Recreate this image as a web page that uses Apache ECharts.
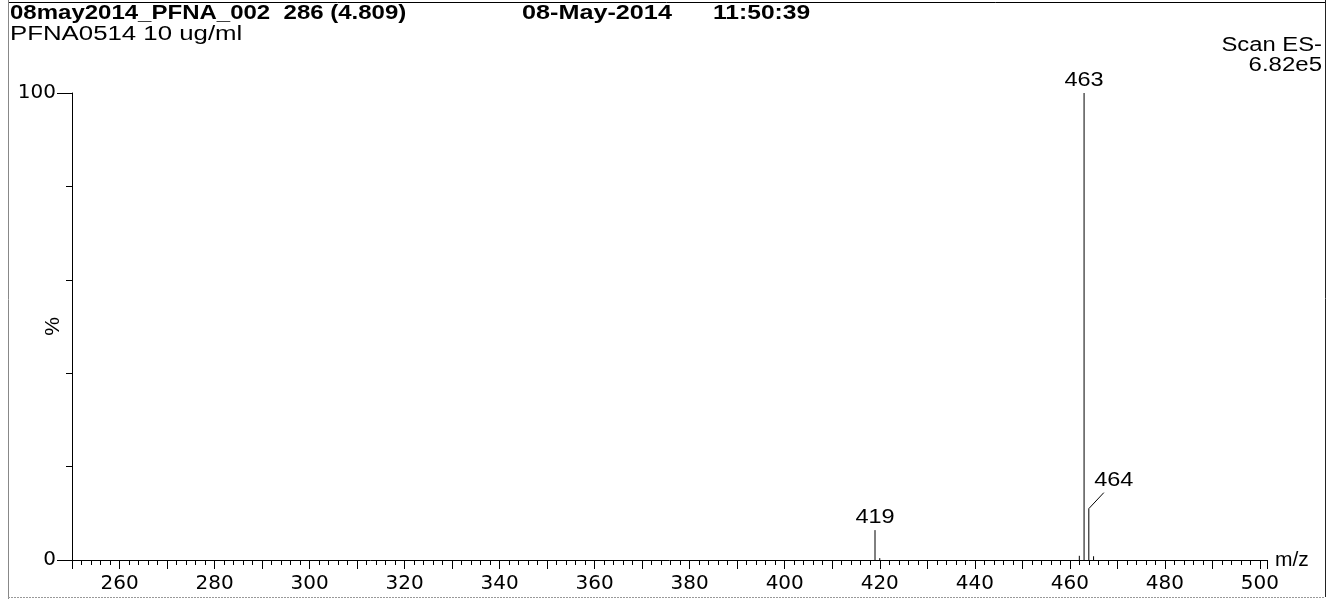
<!DOCTYPE html>
<html><head><meta charset="utf-8">
<script src="https://cdn.jsdelivr.net/npm/echarts@6/dist/echarts.min.js"></script>
<style>html,body{margin:0;padding:0;background:#fff}#c{width:1333px;height:599px}</style>
</head><body><div id="c"></div>
<script>
// m/z values and relative intensities (%) of the sticks
const peakMz  = [419, 420, 462, 463, 464, 465];
const peakInt = [6.4, 0.4, 0.9, 100, 11.0, 0.8];
// peaks that carry a label
const labelMz = [419, 463, 464];
// axis settings
const xMin = 250, xMax = 501.5, xStep = 10, xLabelStep = 20;
const yTicks = [0, 20, 40, 60, 80, 100];

const FONT = '"Liberation Sans", Arial, sans-serif';
const AXFONT = '"DejaVu Sans", sans-serif';
const chart = echarts.init(document.getElementById('c'));

const stickData = peakMz.map((m, i) => [m, peakInt[i]]);
const labelData = labelMz.map(m => [m, peakInt[peakMz.indexOf(m)]]);
const leader = {464: true};

function txt(text, x, y, font, sx, align) {
  return {type: 'text', x: x, y: y, scaleX: sx,
    style: {text: text, font: font, fill: '#000', align: align || 'left', verticalAlign: 'middle'}};
}

chart.setOption({
  animation: false,
  grid: {left: 72, right: 66, top: 93, bottom: 39},
  xAxis: {
    type: 'value', min: xMin, max: xMax, interval: xStep,
    name: 'm/z', nameLocation: 'end', nameGap: 8,
    nameTextStyle: {fontFamily: FONT, fontSize: 21, color: '#000', verticalAlign: 'middle', padding: [5, 0, 0, 0]},
    axisLine: {show: true, lineStyle: {color: '#000', width: 1}},
    axisTick: {show: true, length: 9, lineStyle: {color: '#000'}},
    minorTick: {show: true, splitNumber: 5, length: 5, lineStyle: {color: '#000'}},
    splitLine: {show: false},
    axisLabel: {fontFamily: AXFONT, fontSize: 20, color: '#000', margin: 14,
      formatter: v => (v % xLabelStep === 0 && v > xMin && v <= 500) ? String(v) : ''}
  },
  yAxis: [{
    type: 'value', min: 0, max: 100, interval: yTicks[1] - yTicks[0],
    name: '%', nameLocation: 'middle', nameGap: 8, nameRotate: 90, nameMoveOverlap: false,
    nameTextStyle: {fontFamily: FONT, fontSize: 21, color: '#000'},
    axisLine: {show: true, lineStyle: {color: '#000', width: 1}},
    axisTick: {show: true, length: 6, lineStyle: {color: '#000'}},
    splitLine: {show: false},
    axisLabel: {show: false}
  }, {
    type: 'value', min: 0, max: 100, interval: 100, position: 'left',
    axisLine: {show: false},
    axisTick: {show: true, length: 15, lineStyle: {color: '#000'}},
    splitLine: {show: false},
    axisLabel: {fontFamily: AXFONT, fontSize: 20, color: '#000', margin: 16}
  }],
  series: [{
    type: 'custom', xAxisIndex: 0, yAxisIndex: 0, data: stickData, clip: false,
    renderItem: (params, api) => {
      const m = api.value(0), v = api.value(1);
      const p0 = api.coord([m, 0]), p1 = api.coord([m, v]);
      return {type: 'line', shape: {x1: p0[0], y1: p0[1], x2: p1[0], y2: p1[1]},
        style: {stroke: '#000', lineWidth: 1}};
    }
  }, {
    type: 'custom', xAxisIndex: 0, yAxisIndex: 0, data: labelData, clip: false,
    renderItem: (params, api) => {
      const m = api.value(0), v = api.value(1);
      const p = api.coord([m, v]);
      const font = '21px ' + FONT;
      if (leader[m]) {
        return {type: 'group', children: [
          {type: 'line', shape: {x1: p[0], y1: p[1], x2: p[0] + 15, y2: p[1] - 16},
            style: {stroke: '#000', lineWidth: 1}},
          {type: 'text', x: p[0] + 25, y: p[1] - 28, scaleX: 1.12,
            style: {text: String(m), font: font, fill: '#000', align: 'center', verticalAlign: 'middle'}}
        ]};
      }
      return {type: 'text', x: p[0], y: p[1] - 13, scaleX: 1.12,
        style: {text: String(m), font: font, fill: '#000', align: 'center', verticalAlign: 'middle'}};
    }
  }],
  graphic: [
    {type: 'line', shape: {x1: 8, y1: 2.5, x2: 1325, y2: 2.5}, style: {stroke: '#000', lineWidth: 1}},
    {type: 'line', shape: {x1: 8.5, y1: 0, x2: 8.5, y2: 599}, style: {stroke: '#888', lineWidth: 1}},
    {type: 'line', shape: {x1: 1325.5, y1: 0, x2: 1325.5, y2: 597}, style: {stroke: '#222', lineWidth: 1}},
    {type: 'line', shape: {x1: 8, y1: 597.5, x2: 1325, y2: 597.5}, style: {stroke: '#999', lineWidth: 1, lineDash: [2, 1]}},
    txt('08may2014_PFNA_002  286 (4.809)', 10, 13, 'bold 20px ' + FONT, 1.2),
    txt('PFNA0514 10 ug/ml', 10, 34, '20px ' + FONT, 1.29),
    txt('08-May-2014', 522, 13, 'bold 20px ' + FONT, 1.26),
    txt('11:50:39', 713, 13, 'bold 20px ' + FONT, 1.23),
    txt('Scan ES-', 1322, 45, '20px ' + FONT, 1.19, 'right'),
    txt('6.82e5', 1322, 65, '20px ' + FONT, 1.2, 'right')
  ]
});
</script></body></html>
